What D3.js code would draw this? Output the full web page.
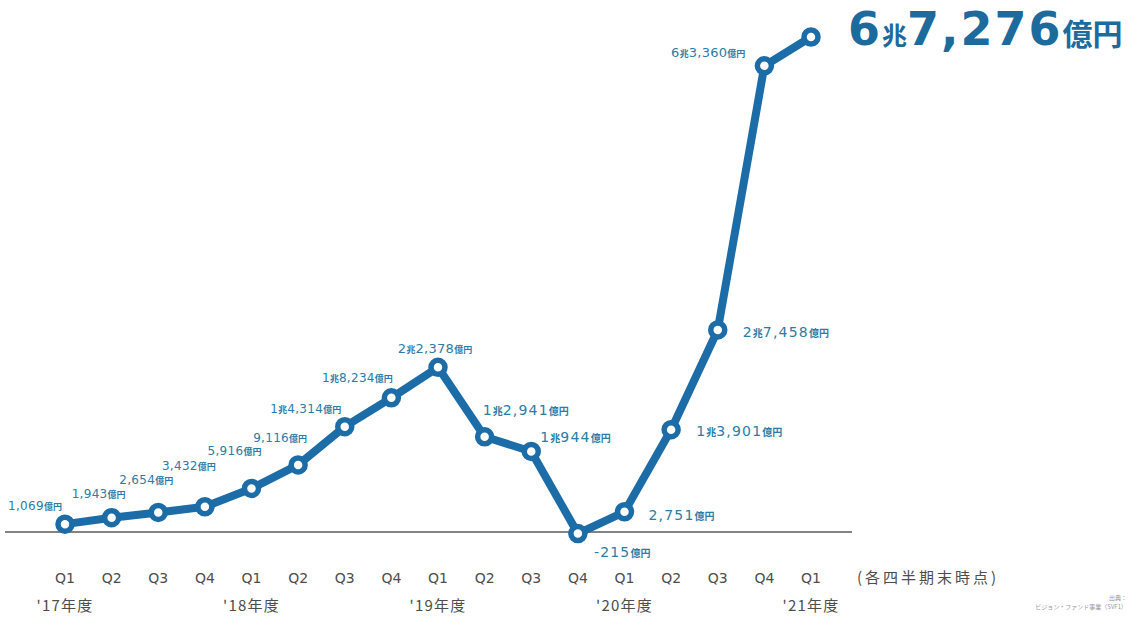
<!DOCTYPE html>
<html>
<head>
<meta charset="utf-8">
<script src="https://cdn.jsdelivr.net/npm/d3@7"></script>
<style>
  body { margin: 0; background: #fff; }
  svg { display: block; font-family: "Noto Sans CJK JP", "Noto Sans", sans-serif; }
</style>
</head>
<body>
<svg class="chart" width="1131" height="617"></svg>
<script>
// 四半期ラベル
var quarters = ["Q1","Q2","Q3","Q4","Q1","Q2","Q3","Q4","Q1","Q2","Q3","Q4","Q1","Q2","Q3","Q4","Q1"];
// 年度ラベル (index -> label)
var yearIdx = [0, 4, 8, 12, 16];
var yearLabels = ["'17年度", "'18年度", "'19年度", "'20年度", "'21年度"];
// 値 (億円)
var values = [1069, 1943, 2654, 3432, 5916, 9116, 14314, 18234, 22378, 12941, 10944, -215, 2751, 13901, 27458, 63360, 67276];

// label placement: anchor, dx, dy from the point, font size
var labelLayout = [
  ["middle", -30, -14, 12], ["middle", -13, -20, 12], ["middle", -12, -28, 12],
  ["middle", -16, -37, 12], ["middle", -17, -33, 12], ["middle", -18, -23, 12],
  ["middle", -39, -14, 12], ["middle", -34, -16, 12], ["middle", -3, -14, 13],
  ["start", -2, -22, 14], ["start", 9, -9, 14], ["start", 16, 23, 14],
  ["start", 24, 8, 14], ["start", 25, 6, 14], ["start", 25, 7, 14],
  ["end", -19, -9, 13]
];

var svg = d3.select(".chart"),
    margin = {top: 37, right: 320, bottom: 85, left: 65},
    width = 1131 - margin.left - margin.right,
    height = 617 - margin.top - margin.bottom;

var x = d3.scalePoint().domain(d3.range(values.length)).range([margin.left, margin.left + width]);
var y = d3.scaleLinear().domain([0, 67276]).range([margin.top + height, margin.top]);

var blue = "#1c6ca8",
    labelColor = "#2b7ca6",
    grey = "#4d4d4d";

// zero line
svg.append("line")
    .attr("x1", 5).attr("x2", 852)
    .attr("y1", y(0)).attr("y2", y(0))
    .attr("stroke", "#5a5a5a")
    .attr("stroke-width", 1.5);

var line = d3.line()
    .x(function(d, i) { return x(i); })
    .y(function(d) { return y(d); });

svg.append("path")
    .datum(values)
    .attr("d", line)
    .attr("fill", "none")
    .attr("stroke", blue)
    .attr("stroke-width", 8)
    .attr("stroke-linejoin", "round");

svg.selectAll("circle.pt")
  .data(values)
  .enter().append("circle")
    .attr("class", "pt")
    .attr("cx", function(d, i) { return x(i); })
    .attr("cy", function(d) { return y(d); })
    .attr("r", 7)
    .attr("fill", "#fff")
    .attr("stroke", blue)
    .attr("stroke-width", 5.5);

// split a 億円 value into 兆 / 億 parts
function parts(v) {
  var cho = Math.floor(Math.abs(v) / 10000), oku = Math.abs(v) % 10000;
  var res = [];
  if (v < 0) return [{t: "-" + d3.format(",")(Math.abs(v)), s: "n"}, {t: "億円", s: "u"}];
  if (cho > 0) {
    res.push({t: String(cho), s: "n"});
    res.push({t: "兆", s: "c"});
    res.push({t: d3.format(",")(oku), s: "n"});
  } else {
    res.push({t: d3.format(",")(oku), s: "n"});
  }
  res.push({t: "億円", s: "u"});
  return res;
}

var lbl = svg.append("g").selectAll("text")
  .data(values.slice(0, values.length - 1))
  .enter().append("text")
    .attr("x", function(d, i) { return x(i) + labelLayout[i][1]; })
    .attr("y", function(d, i) { return y(d) + labelLayout[i][2]; })
    .attr("text-anchor", function(d, i) { return labelLayout[i][0]; })
    .attr("fill", labelColor);

lbl.each(function(d, i) {
  var fs = labelLayout[i][3];
  d3.select(this).selectAll("tspan")
    .data(parts(d))
    .enter().append("tspan")
      .attr("font-size", function(p) { return p.s == "n" ? fs : Math.round(fs * 0.72); })
      .attr("font-family", function(p) { return p.s == "n" ? "DejaVu Sans" : "Noto Sans CJK JP"; })
      .attr("font-weight", function(p) { return p.s == "n" ? "normal" : "bold"; })
      .attr("letter-spacing", function(p) { return p.s == "n" ? (fs > 13 ? 1.2 : 0.3) : 0; })
      .text(function(p) { return p.t; });
});

// big final label
var last = values.length - 1;
var big = svg.append("text")
    .attr("x", x(last) + 37)
    .attr("y", y(values[last]) + 8)
    .attr("fill", "#1d6a9c");
big.selectAll("tspan")
  .data(parts(values[last]))
  .enter().append("tspan")
    .attr("font-size", function(p) { return p.s == "n" ? 46 : (p.s == "c" ? 25 : 30); })
    .attr("font-family", function(p) { return p.s == "n" ? "DejaVu Sans" : "Noto Sans CJK JP"; })
    .attr("font-weight", "bold")
    .attr("letter-spacing", function(p) { return p.s == "n" ? 2 : 0; })
    .text(function(p) { return p.t; });

// x axis labels
var xa = svg.append("g").attr("fill", grey);
xa.selectAll("text.q")
  .data(quarters)
  .enter().append("text")
    .attr("class", "q")
    .attr("x", function(d, i) { return x(i); })
    .attr("y", 583)
    .attr("text-anchor", "middle")
    .attr("font-size", 14)
    .attr("font-family", "DejaVu Sans")
    .text(function(d) { return d; });

xa.selectAll("text.yr")
  .data(yearLabels)
  .enter().append("text")
    .attr("class", "yr")
    .attr("x", function(d, i) { return x(yearIdx[i]); })
    .attr("y", 611)
    .attr("text-anchor", "middle")
    .attr("font-size", 15)
    .attr("letter-spacing", 1.2)
    .text(function(d) { return d; });

xa.append("text")
    .attr("x", 857)
    .attr("y", 583)
    .attr("font-size", 15)
    .attr("letter-spacing", 3)
    .text("(各四半期末時点)");

// source note
var src = svg.append("g").attr("fill", "#999").attr("font-size", 6).attr("text-anchor", "end");
src.append("text").attr("x", 1127).attr("y", 600).text("出典：");
src.append("text").attr("x", 1127).attr("y", 609).text("ビジョン・ファンド事業（SVF1）");
</script>
</body>
</html>
